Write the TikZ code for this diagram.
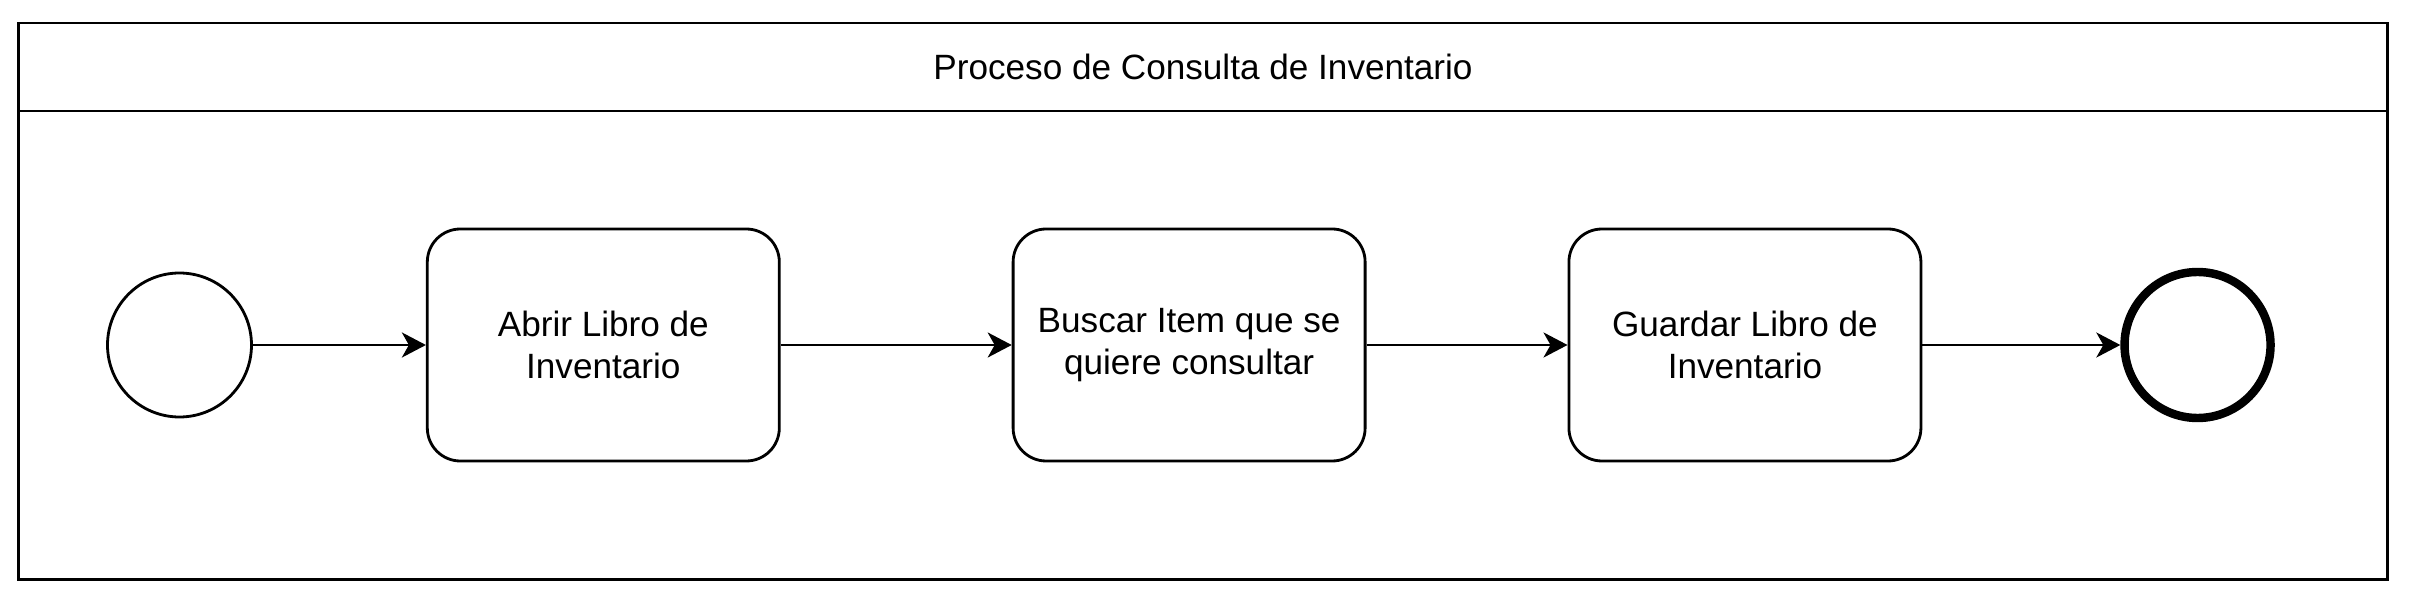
\documentclass[tikz,border=0pt]{standalone}
\usepackage{fontspec}
\setmainfont{Liberation Sans}
\usetikzlibrary{positioning,arrows.meta}

\begin{document}
\begin{tikzpicture}[
    font=\fontsize{10}{11.8}\selectfont,
    line width=0.8pt,
    startev/.style={circle, draw=black, fill=white, minimum size=1.44cm, inner sep=0pt},
    endev/.style={circle, draw=black, fill=white, line width=2.4pt, minimum size=1.46cm, inner sep=0pt},
    task/.style={rectangle, rounded corners=0.33cm, draw=black, fill=white, minimum width=3.52cm, minimum height=2.32cm, align=center, inner sep=2pt},
    flow/.style={-{Stealth[length=0.24cm, width=0.25cm, inset=0.07cm]}, line width=0.8pt}
]
    \useasboundingbox (0,0) rectangle (24.12,-5.92);

    % Pool
    \draw (0.185,-0.23) rectangle (23.875,-5.795);
    \draw (0.185,-1.11) -- (23.875,-1.11);
    \node (titulo) at (12.03,-0.67) {Proceso de Consulta de Inventario};

    % Nodes
    \node[startev] (inicio) at (1.795,-3.45) {};
    \node[task, right=1.73cm of inicio] (abrir) {Abrir Libro de\\Inventario};
    \node[task, right=2.31cm of abrir] (buscar) {Buscar Item que se\\quiere consultar};
    \node[task, right=2.01cm of buscar] (guardar) {Guardar Libro de\\Inventario};
    \node[endev, right=1.98cm of guardar] (fin) {};

    % Edges
    \draw[flow] (inicio) -- (abrir);
    \draw[flow] (abrir) -- (buscar);
    \draw[flow] (buscar) -- (guardar);
    \draw[flow] (guardar) -- (fin);

\end{tikzpicture}
\end{document}
